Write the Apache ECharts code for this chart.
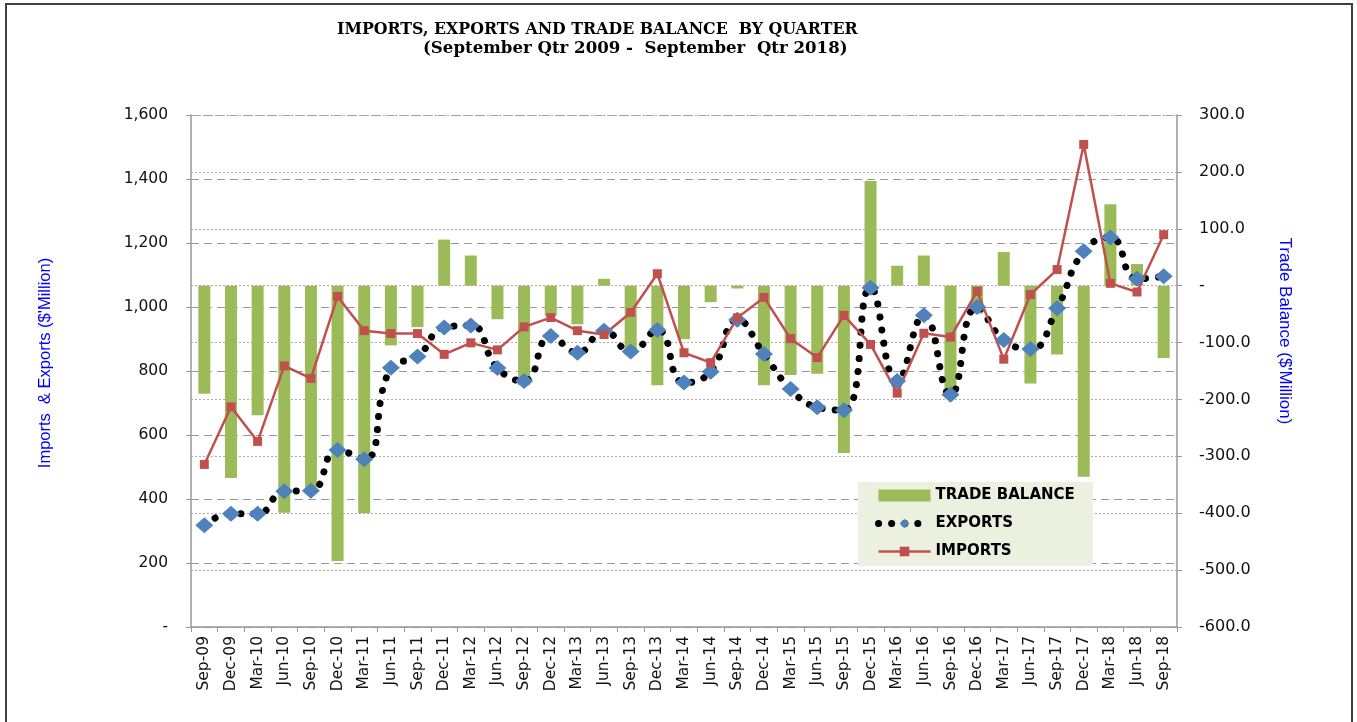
<!DOCTYPE html>
<html>
<head>
<meta charset="utf-8">
<script src="https://cdn.jsdelivr.net/npm/echarts@6/dist/echarts.min.js"></script>
<style>
html,body{margin:0;padding:0;background:#fff;}
#chart{width:1357px;height:722px;}
</style>
</head>
<body>
<div id="chart"></div>
<script>
var categories = ['Sep-09','Dec-09','Mar-10','Jun-10','Sep-10','Dec-10','Mar-11','Jun-11','Sep-11','Dec-11','Mar-12','Jun-12','Sep-12','Dec-12','Mar-13','Jun-13','Sep-13','Dec-13','Mar-14','Jun-14','Sep-14','Dec-14','Mar-15','Jun-15','Sep-15','Dec-15','Mar-16','Jun-16','Sep-16','Dec-16','Mar-17','Jun-17','Sep-17','Dec-17','Mar-18','Jun-18','Sep-18'];

var tradeBalance = [-190,-338,-228,-399,-355,-484,-400,-105,-73,81,53,-59,-175,-53,-68,12,-122,-175,-94,-29,-5,-175,-157,-155,-294,184,35,53,-181,-49,59,-172,-121,-336,143,38,-127];

var exportsData = [318,354,354,424,426,553,524,810,845,936,942,809,769,909,857,926,861,928,764,798,960,853,744,687,677,1060,769,974,726,1000,897,869,996,1174,1217,1088,1096];

var importsData = [508,688,580,816,777,1033,926,917,917,852,888,866,938,967,926,914,983,1104,857,826,966,1030,901,842,974,883,731,918,906,1049,837,1039,1117,1508,1074,1047,1226];

var titleLine1 = 'IMPORTS, EXPORTS AND TRADE BALANCE  BY QUARTER';
var titleLine2 = '(September Qtr 2009 -  September  Qtr 2018)';
var leftAxisName = "Imports  & Exports ($'Million)";
var rightAxisName = "Trade Balance ($'Million)";

var chart = echarts.init(document.getElementById('chart'), null, {renderer:'canvas'});

var option = {
  animation: false,
  backgroundColor: '#fff',
  graphic: [
    {type:'rect', shape:{x:6, y:4, width:1346, height:740}, style:{fill:'none', stroke:'#404040', lineWidth:2}, z:-1}
  ],
  title: [
    {text: titleLine1, left: 337, top: 22, textStyle:{fontFamily:'DejaVu Serif', fontWeight:'bold', fontSize:15.8, color:'#000'}, padding:0},
    {text: titleLine2, left: 423, top: 40, textStyle:{fontFamily:'DejaVu Serif', fontWeight:'bold', fontSize:16.6, color:'#000'}, padding:0}
  ],
  grid: {left: 191, right: 180, top: 115, bottom: 95, containLabel: false},
  legend: {
    orient: 'vertical',
    left: 858, top: 482,
    backgroundColor: '#EBF1DE',
    padding: [6, 18, 7, 17],
    itemWidth: 52, itemHeight: 12, itemGap: 13,
    lineStyle: {width:'inherit', type:'inherit', cap:'inherit'},
    textStyle: {fontFamily:'DejaVu Sans', fontWeight:'bold', fontSize:15, color:'#000'},
    data: [{name:'TRADE BALANCE', icon:'rect'}, {name:'EXPORTS'}, {name:'IMPORTS'}]
  },
  xAxis: {
    type: 'category',
    data: categories,
    boundaryGap: true,
    axisLine: {show:true, lineStyle:{color:'#999', width:1.5}},
    axisTick: {show:true, length:5, interval:0, lineStyle:{color:'#999'}},
    axisLabel: {rotate:90, interval:0, fontFamily:'DejaVu Sans', fontSize:15.5, color:'#111', margin:9},
    splitLine: {show:false}
  },
  yAxis: [
    {
      type:'value', min:0, max:1600, interval:200, position:'left',
      name: leftAxisName, nameLocation:'middle', nameGap:137, nameRotate:90,
      nameTextStyle:{fontFamily:'Liberation Sans', fontSize:16.5, color:'#0000FF', padding:[0,0,0,16]},
      axisLine:{show:true, lineStyle:{color:'#999', width:1.5}},
      axisTick:{show:true, length:5, lineStyle:{color:'#999'}},
      axisLabel:{fontFamily:'DejaVu Sans', fontSize:15.5, color:'#111', margin:23,
        formatter:function(v){ return v === 0 ? '-' : v.toLocaleString('en-US'); }},
      splitLine:{show:true, lineStyle:{color:'#999', width:1, type:[8,5]}}
    },
    {
      type:'value', min:-600, max:300, interval:100, position:'right',
      name: rightAxisName, nameLocation:'middle', nameGap:99, nameRotate:-90,
      nameTextStyle:{fontFamily:'Liberation Sans', fontSize:17, color:'#0000FF', padding:[0,80,0,0]},
      axisLine:{show:true, lineStyle:{color:'#999', width:1.5}},
      axisTick:{show:true, length:5, lineStyle:{color:'#999'}},
      axisLabel:{fontFamily:'DejaVu Sans', fontSize:16, color:'#111', margin:22,
        formatter:function(v){ return v === 0 ? '-' : v.toFixed(1); }},
      splitLine:{show:true, lineStyle:{color:'#aaa', width:1, type:[2,2]}}
    }
  ],
  series: [
    {
      name:'TRADE BALANCE', type:'bar', yAxisIndex:1, data: tradeBalance,
      barWidth: 12,
      itemStyle:{color:'#9BBB59'}
    },
    {
      name:'EXPORTS', type:'line', yAxisIndex:0, data: exportsData,
      smooth: 0.5,
      symbol:'diamond', symbolSize:[18,16],
      itemStyle:{color:'#4F81BD'},
      lineStyle:{color:'#000', width:7, type:[0.1,13], cap:'round'}
    },
    {
      name:'IMPORTS', type:'line', yAxisIndex:0, data: importsData,
      symbol:'rect', symbolSize:9,
      itemStyle:{color:'#C0504D'},
      lineStyle:{color:'#C0504D', width:2.5}
    }
  ]
};
chart.setOption(option);
</script>
</body>
</html>
